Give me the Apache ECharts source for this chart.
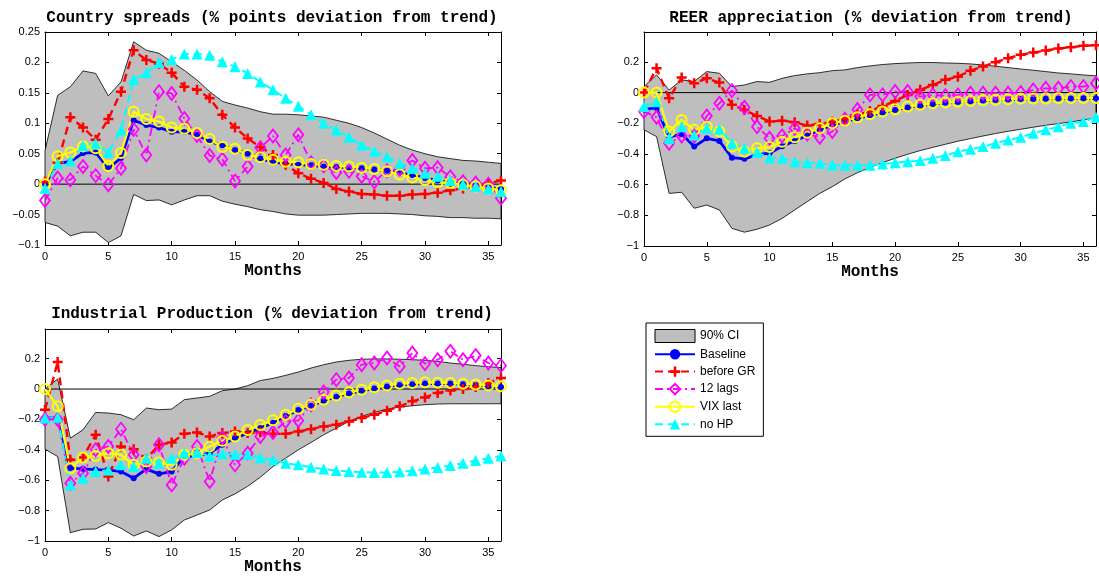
<!DOCTYPE html>
<html>
<head>
<meta charset="utf-8">
<script src="https://cdn.jsdelivr.net/npm/echarts/dist/echarts.min.js"></script>
<style>
  html, body { margin: 0; padding: 0; background: #fff; }
  #chart { width: 1099px; height: 578px; }
</style>
</head>
<body>
<div id="chart"></div>
<script>
// Horizon in months after the shock
const months = [0,1,2,3,4,5,6,7,8,9,10,11,12,13,14,15,16,17,18,19,20,21,22,23,24,25,26,27,28,29,30,31,32,33,34,35,36];
const xTicks = [0,5,10,15,20,25,30,35];

// Country spreads (% points deviation from trend)
const spreadCiUpper = [0.055,0.146,0.160,0.186,0.182,0.145,0.168,0.234,0.220,0.215,0.201,0.187,0.171,0.152,0.136,0.130,0.125,0.119,0.115,0.115,0.114,0.112,0.110,0.105,0.100,0.093,0.084,0.074,0.064,0.056,0.050,0.045,0.042,0.039,0.038,0.036,0.034];
const spreadCiLower = [-0.063,-0.069,-0.085,-0.079,-0.079,-0.096,-0.085,-0.017,-0.027,-0.026,-0.034,-0.026,-0.019,-0.019,-0.028,-0.033,-0.037,-0.042,-0.045,-0.049,-0.051,-0.051,-0.051,-0.050,-0.049,-0.048,-0.048,-0.048,-0.049,-0.050,-0.052,-0.053,-0.055,-0.055,-0.056,-0.056,-0.057];
const spreadBaseline = [0,0.034,0.037,0.051,0.052,0.026,0.043,0.105,0.097,0.093,0.086,0.086,0.081,0.070,0.064,0.056,0.050,0.042,0.036,0.034,0.032,0.031,0.029,0.028,0.027,0.026,0.024,0.022,0.019,0.015,0.010,0.006,0.003,0.001,-0.002,-0.005,-0.008];
const spreadBeforeGR = [0.004,0.035,0.110,0.093,0.073,0.107,0.152,0.220,0.204,0.198,0.183,0.160,0.155,0.141,0.114,0.093,0.075,0.061,0.048,0.032,0.018,0.009,0.002,-0.008,-0.012,-0.016,-0.017,-0.019,-0.019,-0.017,-0.016,-0.014,-0.010,-0.007,-0.003,0.001,0.006];
const spreadTwelveLags = [-0.027,0.010,0.007,0.029,0.014,-0.001,0.026,0.090,0.048,0.152,0.149,0.108,0.080,0.047,0.041,0.005,0.029,0.060,0.079,0.048,0.081,0.035,0.030,0.019,0.021,0.013,0.004,0.022,0.025,0.039,0.026,0.027,0.012,0.004,0.002,0.000,-0.023];
const spreadVixLast = [0,0.046,0.052,0.062,0.059,0.030,0.051,0.119,0.107,0.103,0.093,0.091,0.084,0.074,0.061,0.058,0.048,0.044,0.040,0.037,0.036,0.033,0.032,0.030,0.029,0.027,0.025,0.021,0.016,0.011,0.007,0.003,0.002,-0.001,-0.004,-0.007,-0.010];
const spreadNoHP = [-0.007,0.034,0.038,0.063,0.067,0.052,0.089,0.172,0.183,0.200,0.205,0.214,0.214,0.212,0.201,0.193,0.182,0.168,0.155,0.141,0.128,0.114,0.100,0.089,0.077,0.064,0.054,0.045,0.034,0.026,0.018,0.013,0.006,0.000,-0.004,-0.008,-0.012];

// REER appreciation (% deviation from trend)
const reerCiUpper = [0.040,0.115,0.017,0.083,0.072,0.137,0.126,0.039,0.050,0.072,0.067,0.093,0.111,0.122,0.130,0.143,0.148,0.163,0.174,0.183,0.189,0.193,0.196,0.196,0.193,0.191,0.187,0.180,0.172,0.163,0.154,0.146,0.137,0.128,0.122,0.115,0.109];
const reerCiLower = [-0.243,-0.287,-0.657,-0.650,-0.754,-0.733,-0.765,-0.885,-0.910,-0.891,-0.863,-0.820,-0.765,-0.711,-0.657,-0.613,-0.563,-0.522,-0.487,-0.457,-0.428,-0.402,-0.378,-0.357,-0.337,-0.317,-0.300,-0.283,-0.267,-0.252,-0.239,-0.226,-0.213,-0.202,-0.191,-0.178,-0.165];
const reerBaseline = [-0.110,-0.100,-0.290,-0.270,-0.352,-0.298,-0.315,-0.424,-0.432,-0.405,-0.395,-0.350,-0.315,-0.280,-0.245,-0.213,-0.190,-0.168,-0.148,-0.130,-0.113,-0.097,-0.085,-0.075,-0.067,-0.062,-0.057,-0.052,-0.048,-0.045,-0.042,-0.041,-0.040,-0.039,-0.038,-0.037,-0.037];
const reerBeforeGR = [0,0.159,-0.037,0.098,0.061,0.093,0.065,-0.080,-0.113,-0.152,-0.189,-0.183,-0.193,-0.215,-0.204,-0.190,-0.170,-0.145,-0.120,-0.088,-0.055,-0.015,0.018,0.050,0.083,0.104,0.143,0.170,0.198,0.224,0.246,0.261,0.274,0.287,0.296,0.305,0.309];
const reerTwelveLags = [-0.124,-0.161,-0.330,-0.283,-0.283,-0.152,-0.070,0.013,-0.096,-0.222,-0.298,-0.283,-0.233,-0.270,-0.291,-0.254,-0.174,-0.110,-0.015,-0.015,0.007,0.007,-0.026,-0.015,-0.020,-0.015,-0.004,-0.004,-0.004,-0.004,0.000,0.017,0.028,0.028,0.039,0.039,0.061];
const reerVixLast = [0,0,-0.254,-0.178,-0.243,-0.222,-0.254,-0.352,-0.385,-0.363,-0.355,-0.320,-0.291,-0.261,-0.232,-0.200,-0.183,-0.161,-0.141,-0.124,-0.108,-0.091,-0.080,-0.070,-0.065,-0.060,-0.055,-0.050,-0.046,-0.043,-0.040,-0.039,-0.038,-0.037,-0.036,-0.035,-0.035];
const reerNoHP = [-0.091,-0.059,-0.298,-0.222,-0.276,-0.233,-0.239,-0.330,-0.363,-0.391,-0.424,-0.428,-0.450,-0.457,-0.461,-0.472,-0.474,-0.474,-0.474,-0.466,-0.457,-0.450,-0.443,-0.428,-0.410,-0.385,-0.370,-0.352,-0.330,-0.309,-0.291,-0.265,-0.243,-0.222,-0.200,-0.189,-0.161];

// Industrial Production (% deviation from trend)
const ipCiUpper = [0.000,0.066,-0.323,-0.268,-0.154,-0.158,-0.169,-0.202,-0.125,-0.136,-0.132,-0.070,-0.059,-0.048,-0.011,0.000,0.022,0.056,0.070,0.090,0.112,0.138,0.160,0.178,0.189,0.196,0.198,0.198,0.196,0.193,0.189,0.182,0.171,0.163,0.154,0.147,0.141];
const ipCiLower = [-0.396,-0.444,-0.945,-0.923,-0.921,-0.879,-0.916,-0.967,-0.934,-0.971,-0.927,-0.862,-0.829,-0.796,-0.730,-0.690,-0.640,-0.580,-0.510,-0.455,-0.400,-0.352,-0.301,-0.257,-0.213,-0.180,-0.154,-0.132,-0.119,-0.110,-0.103,-0.099,-0.097,-0.097,-0.097,-0.097,-0.097];
const ipBaseline = [-0.190,-0.190,-0.520,-0.525,-0.530,-0.532,-0.543,-0.587,-0.527,-0.558,-0.543,-0.444,-0.440,-0.422,-0.367,-0.323,-0.290,-0.257,-0.222,-0.178,-0.138,-0.110,-0.077,-0.050,-0.030,-0.012,0.003,0.016,0.027,0.032,0.036,0.036,0.036,0.032,0.027,0.020,0.014];
const ipBeforeGR = [-0.136,0.178,-0.466,-0.450,-0.301,-0.576,-0.378,-0.396,-0.460,-0.367,-0.352,-0.295,-0.286,-0.312,-0.290,-0.280,-0.290,-0.285,-0.295,-0.295,-0.279,-0.264,-0.246,-0.235,-0.213,-0.191,-0.169,-0.143,-0.114,-0.081,-0.055,-0.026,-0.009,0.000,0.013,0.040,0.073];
const ipTwelveLags = [-0.200,-0.200,-0.620,-0.554,-0.400,-0.378,-0.264,-0.433,-0.510,-0.367,-0.631,-0.455,-0.378,-0.609,-0.320,-0.499,-0.422,-0.312,-0.286,-0.213,-0.207,-0.103,-0.020,0.062,0.073,0.160,0.171,0.204,0.149,0.237,0.167,0.193,0.248,0.193,0.220,0.171,0.154];
const ipVixLast = [0,-0.114,-0.521,-0.451,-0.440,-0.422,-0.433,-0.499,-0.477,-0.484,-0.499,-0.433,-0.422,-0.378,-0.340,-0.312,-0.270,-0.237,-0.205,-0.169,-0.130,-0.103,-0.070,-0.042,-0.022,-0.004,0.011,0.024,0.035,0.040,0.044,0.042,0.040,0.035,0.030,0.024,0.018];
const ipNoHP = [-0.191,-0.185,-0.631,-0.587,-0.543,-0.532,-0.499,-0.510,-0.455,-0.488,-0.455,-0.422,-0.418,-0.440,-0.426,-0.429,-0.430,-0.453,-0.466,-0.488,-0.499,-0.514,-0.527,-0.536,-0.543,-0.547,-0.549,-0.549,-0.545,-0.538,-0.527,-0.516,-0.503,-0.488,-0.470,-0.455,-0.440];

const seriesNames = ['Baseline', 'before GR', '12 lags', 'VIX last', 'no HP'];
const ciName = '90% CI';

const panels = [
  { title: 'Country spreads (% points deviation from trend)', titleX: 272, titleY: 10,
    grid: { left: 45, top: 32, width: 456, height: 213 },
    yMin: -0.1, yMax: 0.25, yStep: 0.05,
    ciLower: spreadCiLower, ciUpper: spreadCiUpper,
    lines: [spreadBaseline, spreadBeforeGR, spreadTwelveLags, spreadVixLast, spreadNoHP] },
  { title: 'REER appreciation (% deviation from trend)', titleX: 871, titleY: 10,
    grid: { left: 644, top: 32, width: 454.5, height: 214 },
    yMin: -1, yMax: 0.395, yStep: 0.2,
    ciLower: reerCiLower, ciUpper: reerCiUpper,
    lines: [reerBaseline, reerBeforeGR, reerTwelveLags, reerVixLast, reerNoHP] },
  { title: 'Industrial Production (% deviation from trend)', titleX: 272, titleY: 306,
    grid: { left: 45, top: 329, width: 456, height: 212 },
    yMin: -1, yMax: 0.395, yStep: 0.2,
    ciLower: ipCiLower, ciUpper: ipCiUpper,
    lines: [ipBaseline, ipBeforeGR, ipTwelveLags, ipVixLast, ipNoHP] }
];

const plusPath = 'path://M3,0H5V3H8V5H5V8H3V5H0V3H3Z';
const lineLooks = [
  { color: '#0000ff', width: 2.8, type: 'solid', symbol: 'circle', size: 6, fill: '#0000ff', border: 0 },
  { color: '#ff0000', width: 2.4, type: [8, 5], symbol: plusPath, size: 10, fill: '#ff0000', border: 0 },
  { color: '#ff00ff', width: 1.8, type: [8, 4, 2, 4], symbol: 'diamond', size: [10, 13], fill: 'rgba(255,255,255,0)', border: 1.8 },
  { color: '#ffff00', width: 2.2, type: 'solid', symbol: 'circle', size: 10, fill: 'rgba(255,255,255,0)', border: 2 },
  { color: '#00ffff', width: 2, type: [8, 5], symbol: 'triangle', size: 11, fill: '#00ffff', border: 0 }
];

const labelFont = { fontFamily: 'Liberation Sans', fontSize: 11, color: '#000' };
const monoBold = { fontFamily: 'Liberation Mono', fontWeight: 'bold', fontSize: 16, color: '#000' };
const black = { color: '#000', width: 1 };

function tickFormatter(step) {
  return function (v) {
    const r = Math.round(v / step);
    if (Math.abs(v - r * step) > 1e-9) return '';
    return String(+(r * step).toFixed(4)).replace('-', '\u2212');
  };
}

const grids = [], xAxes = [], yAxes = [], series = [], titles = [];

panels.forEach(function (p, k) {
  grids.push(Object.assign({ containLabel: false }, p.grid));
  titles.push({ text: p.title, left: p.titleX, top: p.titleY, textAlign: 'center', padding: 0, textStyle: monoBold });

  // bottom and top x axes (top one only mirrors the ticks)
  xAxes.push({
    type: 'value', gridIndex: k, min: 0, max: 36, interval: 5, position: 'bottom',
    name: 'Months', nameLocation: 'middle', nameGap: 18, nameTextStyle: monoBold,
    axisLine: { show: true, onZero: false, lineStyle: black },
    axisTick: { show: true, inside: true, length: 4, lineStyle: black },
    axisLabel: Object.assign({ margin: 6, formatter: tickFormatter(5) }, labelFont),
    splitLine: { show: false }
  });
  xAxes.push({
    type: 'value', gridIndex: k, min: 0, max: 36, interval: 5, position: 'top',
    axisLine: { show: true, onZero: false, lineStyle: black },
    axisTick: { show: true, inside: true, length: 4, lineStyle: black },
    axisLabel: { show: false }, splitLine: { show: false }
  });
  // left and right y axes
  yAxes.push({
    type: 'value', gridIndex: k, min: p.yMin, max: p.yMax, interval: p.yStep, position: 'left',
    axisLine: { show: true, onZero: false, lineStyle: black },
    axisTick: { show: true, inside: true, length: 4, lineStyle: black },
    axisLabel: Object.assign({ margin: 5, formatter: tickFormatter(p.yStep) }, labelFont),
    splitLine: { show: false }
  });
  yAxes.push({
    type: 'value', gridIndex: k, min: p.yMin, max: p.yMax, interval: p.yStep, position: 'right',
    axisLine: { show: true, onZero: false, lineStyle: black },
    axisTick: { show: true, inside: true, length: 4, lineStyle: black },
    axisLabel: { show: false }, splitLine: { show: false }
  });

  const xi = 2 * k, yi = 2 * k;

  // confidence band as one polygon: upper edge forward, lower edge back
  series.push({
    type: 'custom', name: ciName, xAxisIndex: xi, yAxisIndex: yi, silent: true,
    itemStyle: { color: '#bebebe' },
    data: [[months[0], p.ciUpper[0]]],
    renderItem: function (params, api) {
      const pts = [];
      for (let i = 0; i < months.length; i++) pts.push(api.coord([months[i], p.ciUpper[i]]));
      for (let i = months.length - 1; i >= 0; i--) pts.push(api.coord([months[i], p.ciLower[i]]));
      return { type: 'polygon', shape: { points: pts }, style: { fill: '#bebebe', stroke: '#000', lineWidth: 0.8 } };
    }
  });

  // zero reference line
  series.push({
    type: 'line', name: 'zero', xAxisIndex: xi, yAxisIndex: yi, silent: true,
    data: [[months[0], 0], [months[months.length - 1], 0]],
    symbol: 'none', lineStyle: { color: '#000', width: 1 }
  });

  p.lines.forEach(function (vals, j) {
    const look = lineLooks[j];
    series.push({
      type: 'line', name: seriesNames[j], xAxisIndex: xi, yAxisIndex: yi,
      data: months.map(function (m, i) { return [m, vals[i]]; }),
      symbol: look.symbol, symbolSize: look.size, showSymbol: true,
      lineStyle: { color: look.color, width: look.width, type: look.type },
      itemStyle: { color: look.fill, borderColor: look.color, borderWidth: look.border },
      emphasis: { disabled: true }
    });
  });
});

const chart = echarts.init(document.getElementById('chart'), null, { renderer: 'canvas' });
chart.setOption({
  animation: false,
  backgroundColor: '#fff',
  title: titles,
  grid: grids,
  xAxis: xAxes,
  yAxis: yAxes,
  legend: {
    orient: 'vertical', left: 646, top: 323,
    itemWidth: 40, itemHeight: 13, itemGap: 5.3,
    padding: [6, 8, 6, 8],
    borderColor: '#000', borderWidth: 1, backgroundColor: '#fff',
    selectedMode: false,
    textStyle: { fontFamily: 'Liberation Sans', fontSize: 12, color: '#000' },
    data: [
      { name: ciName, icon: 'rect', itemStyle: { color: '#bebebe', borderColor: '#000', borderWidth: 1 } },
      'Baseline', 'before GR', '12 lags', 'VIX last', 'no HP'
    ]
  },
  series: series
});
</script>
</body>
</html>
